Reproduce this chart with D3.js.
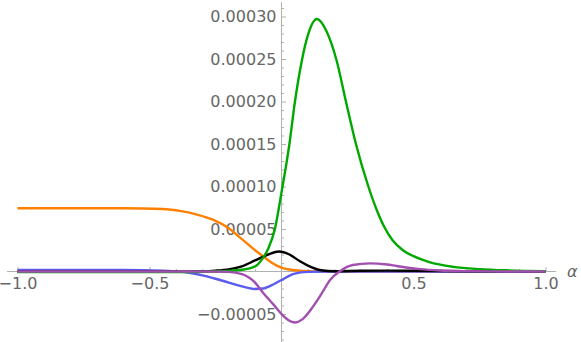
<!DOCTYPE html>
<html>
<head>
<meta charset="utf-8">
<script src="https://cdn.jsdelivr.net/npm/d3@7"></script>
<style>
  body { margin: 0; background: #fff; }
  svg { display: block; }
</style>
</head>
<body>
<svg id="plotSVG" width="581" height="342"></svg>
<script>
// values
let alphaOrange = [-1, -0.6, -0.45, -0.38, -0.32, -0.26, -0.2, -0.15, -0.1, -0.07, -0.04, 0, 0.05, 0.1, 0.2, 1]
let orangeVals  = [7.45e-5, 7.44e-5, 7.35e-5, 7.1e-5, 6.7e-5, 6.1e-5, 5.1e-5, 3.8e-5, 2.5e-5, 1.8e-5, 1.1e-5, 4.5e-6, 1.5e-6, 5e-7, 0, 0]

let alphaBlue = [-1, -0.6, -0.45, -0.4, -0.35, -0.3, -0.25, -0.2, -0.15, -0.1, -0.07, -0.03, 0, 0.05, 0.1, 0.2, 1]
let blueVals  = [1.8e-6, 1.8e-6, 1e-6, 0, -1.5e-6, -4.5e-6, -8.5e-6, -1.3e-5, -1.75e-5, -2.05e-5, -2e-5, -1.5e-5, -1e-5, -2.5e-6, -5e-7, 0, 0]

let alphaBlack = [-1, -0.4, -0.3, -0.25, -0.2, -0.15, -0.1, -0.05, -0.01, 0.03, 0.07, 0.1, 0.15, 0.2, 0.3, 0.4, 0.5, 0.7, 1]
let blackVals  = [0, 0, 3e-7, 1e-6, 2.5e-6, 6e-6, 1.3e-5, 2e-5, 2.35e-5, 2e-5, 1.2e-5, 7e-6, 1.5e-6, 3e-7, 8e-7, 1e-6, 8e-7, 3e-7, 0]

let alphaGreen = [-1, -0.4, -0.25, -0.15, -0.1, -0.07, -0.05, -0.025, 0, 0.03, 0.051, 0.077, 0.1, 0.134, 0.17, 0.209, 0.244, 0.282, 0.329, 0.36, 0.39, 0.42, 0.46, 0.5, 0.56, 0.65, 0.75, 0.85, 1]
let greenVals  = [-7e-7, -7e-7, 0, 2e-6, 6e-6, 1.6e-5, 2.7e-5, 5e-5, 9.3e-5, 1.5e-4, 2e-4, 2.48e-4, 2.78e-4, 2.97e-4, 2.83e-4, 2.48e-4, 2e-4, 1.5e-4, 1e-4, 7.3e-5, 5.2e-5, 3.7e-5, 2.5e-5, 1.8e-5, 1.1e-5, 5.5e-6, 2.8e-6, 1.4e-6, 5e-7]

let alphaPurple = [-1, -0.3, -0.2, -0.15, -0.1, -0.07, -0.03, 0, 0.025, 0.05, 0.08, 0.12, 0.15, 0.184, 0.22, 0.27, 0.335, 0.4, 0.436, 0.525, 0.6, 0.7, 0.8, 1]
let purpleVals  = [0, 0, -5e-7, -3e-6, -1.3e-5, -2.5e-5, -3.9e-5, -5e-5, -5.7e-5, -6e-5, -5.6e-5, -4.1e-5, -2.7e-5, -1e-5, 0, 7.6e-6, 9.6e-6, 8.2e-6, 6.5e-6, 2.8e-6, 1.2e-6, 4e-7, 1e-7, 0]

let yTickVals = [-0.00005, 0.00005, 0.0001, 0.00015, 0.0002, 0.00025, 0.0003]
let xTickVals = [-1, -0.5, 0.5, 1]

let series = [
    {name: "orange", color: "#ff8000", xs: alphaOrange, ys: orangeVals},
    {name: "blue",   color: "#5b5bf2", xs: alphaBlue,   ys: blueVals},
    {name: "black",  color: "#000000", xs: alphaBlack,  ys: blackVals},
    {name: "green",  color: "#00a800", xs: alphaGreen,  ys: greenVals},
    {name: "purple", color: "#a24fb0", xs: alphaPurple, ys: purpleVals}
]

let svg = d3.select("#plotSVG")

let xScale = d3.scaleLinear()
    .domain([-1, 1])
    .range([17.5, 545.5])

let yScale = d3.scaleLinear()
    .domain([0, 0.0003])
    .range([271.5, 16.5])

let axisColor = "#b0b0b0"
let labelFont = "DejaVu Sans"

// axis lines
svg.append("line")
    .attr("x1", xScale(-1.04)).attr("x2", xScale(1.04))
    .attr("y1", yScale(0)).attr("y2", yScale(0))
    .attr("stroke", axisColor)
svg.append("line")
    .attr("x1", xScale(0)).attr("x2", xScale(0))
    .attr("y1", 2).attr("y2", 342)
    .attr("stroke", axisColor)

// x ticks, pointing up
let xMinor = d3.range(-10, 11).map(d => d / 10).filter(d => Math.abs(d * 2 - Math.round(d * 2)) > 1e-9)
svg.append("g")
    .attr("transform", `translate(0,${yScale(0)})`)
    .call(d3.axisBottom(xScale).tickValues(xMinor).tickSizeInner(-2.5).tickSizeOuter(0).tickFormat(""))
    .call(g => g.select(".domain").remove())
    .call(g => g.selectAll("line").attr("stroke", axisColor))

svg.append("g")
    .attr("transform", `translate(0,${yScale(0)})`)
    .call(d3.axisBottom(xScale).tickValues(xTickVals).tickSizeInner(-4.5).tickSizeOuter(0).tickPadding(6)
        .tickFormat(d3.format(".1f")))
    .call(g => g.select(".domain").remove())
    .call(g => g.selectAll("line").attr("stroke", axisColor))
    .call(g => g.selectAll("text")
        .attr("fill", "#666")
        .style("font-family", labelFont)
        .style("font-size", "16px"))

// y ticks, pointing right
let yMinor = d3.range(-8, 32).map(d => d * 1e-5).filter(d => d !== 0 && Math.round(d * 1e5) % 5 !== 0)
svg.append("g")
    .attr("transform", `translate(${xScale(0)},0)`)
    .call(d3.axisLeft(yScale).tickValues(yMinor).tickSizeInner(-2.5).tickSizeOuter(0).tickFormat(""))
    .call(g => g.select(".domain").remove())
    .call(g => g.selectAll("line").attr("stroke", axisColor))

svg.append("g")
    .attr("transform", `translate(${xScale(0)},0)`)
    .call(d3.axisLeft(yScale).tickValues(yTickVals).tickSizeInner(-4.5).tickSizeOuter(0).tickPadding(5)
        .tickFormat(d3.format(".5f")))
    .call(g => g.select(".domain").remove())
    .call(g => g.selectAll("line").attr("stroke", axisColor))
    .call(g => g.selectAll("text")
        .attr("fill", "#666")
        .style("font-family", labelFont)
        .style("font-size", "16px"))

// curves
let line = d3.line()
    .x(d => xScale(d[0]))
    .y(d => yScale(d[1]))
    .curve(d3.curveMonotoneX)

svg.selectAll(".curve")
    .data(series)
    .join("path")
    .attr("class", "curve")
    .attr("d", s => line(s.xs.map((x, i) => [x, s.ys[i]])))
    .attr("fill", "none")
    .attr("stroke", s => s.color)
    .attr("stroke-width", 2.4)
    .attr("stroke-linejoin", "round")

// axis title
svg.append("text")
    .attr("x", 567)
    .attr("y", yScale(0) + 5)
    .attr("fill", "#666")
    .style("font-family", labelFont)
    .style("font-style", "italic")
    .style("font-size", "16px")
    .text("α")
</script>
</body>
</html>
